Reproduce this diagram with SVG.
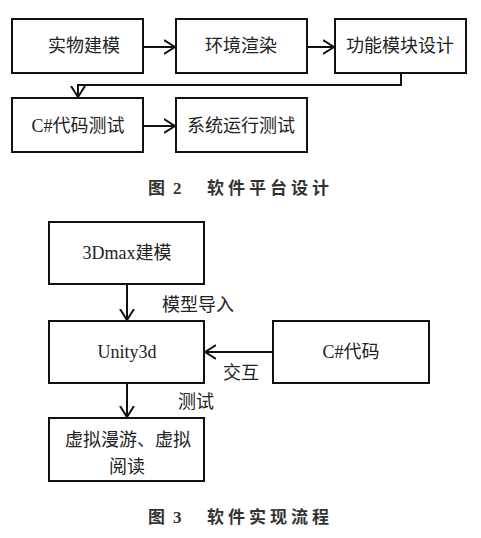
<svg xmlns="http://www.w3.org/2000/svg" width="481" height="538" viewBox="0 0 481 538">
<defs>
<style>
.box{fill:#fff;stroke:#111;stroke-width:2}
.t{font-family:"Liberation Serif","Noto Sans CJK SC",serif;font-size:18px;fill:#222;text-anchor:middle;dominant-baseline:central}
.cap{font-family:"Liberation Serif","Noto Sans CJK SC",serif;font-size:17px;font-weight:bold;fill:#333;dominant-baseline:central}
.sp{letter-spacing:4px}
.ln{fill:none;stroke:#111;stroke-width:2}
</style>
<marker id="ah" viewBox="0 0 12 16" refX="11" refY="8" markerWidth="12" markerHeight="16" markerUnits="userSpaceOnUse" orient="auto">
<polyline points="0,1 11,8 0,15" fill="none" stroke="#111" stroke-width="2"/>
</marker>
</defs>
<rect width="481" height="538" fill="#fff"/>
<g id="connectors">
<line class="ln" x1="143" y1="47" x2="175" y2="47" marker-end="url(#ah)"/>
<line class="ln" x1="307" y1="47" x2="334" y2="47" marker-end="url(#ah)"/>
<polyline class="ln" points="401,73 401,85 78,85 78,97" marker-end="url(#ah)"/>
<line class="ln" x1="143" y1="126" x2="175" y2="126" marker-end="url(#ah)"/>
<line class="ln" x1="127" y1="284" x2="127" y2="320" marker-end="url(#ah)"/>
<line class="ln" x1="273" y1="352" x2="205" y2="352" marker-end="url(#ah)"/>
<line class="ln" x1="127" y1="383" x2="127" y2="417" marker-end="url(#ah)"/>
<text class="t" x="198" y="305">模型导入</text>
<text class="t" x="241" y="373">交互</text>
<text class="t" x="196" y="402">测试</text>
</g>
<g id="n1"><rect class="box" x="12" y="19" width="131" height="54"/><text class="t" x="84" y="46">实物建模</text></g>
<g id="n2"><rect class="box" x="176" y="19" width="131" height="54"/><text class="t" x="241" y="46">环境渲染</text></g>
<g id="n3"><rect class="box" x="335" y="19" width="131" height="54"/><text class="t" x="400" y="46">功能模块设计</text></g>
<g id="n4"><rect class="box" x="12" y="98" width="131" height="54"/><text class="t" x="78" y="126">C#代码测试</text></g>
<g id="n5"><rect class="box" x="176" y="98" width="131" height="54"/><text class="t" x="241" y="126">系统运行测试</text></g>
<text class="cap" x="148" y="188">图<tspan x="173">2</tspan><tspan class="sp" x="207">软件平台设计</tspan></text>
<g id="m1"><rect class="box" x="49" y="222" width="155" height="62"/><text class="t" x="127" y="253">3Dmax建模</text></g>
<g id="m2"><rect class="box" x="49" y="321" width="155" height="62"/><text class="t" x="127" y="352">Unity3d</text></g>
<g id="m3"><rect class="box" x="273" y="321" width="156" height="62"/><text class="t" x="351" y="352">C#代码</text></g>
<g id="m4"><rect class="box" x="49" y="418" width="155" height="63"/><text class="t" x="128" y="440">虚拟漫游、虚拟</text><text class="t" x="127" y="467">阅读</text></g>
<text class="cap" x="148" y="517">图<tspan x="173">3</tspan><tspan class="sp" x="207">软件实现流程</tspan></text>
</svg>
